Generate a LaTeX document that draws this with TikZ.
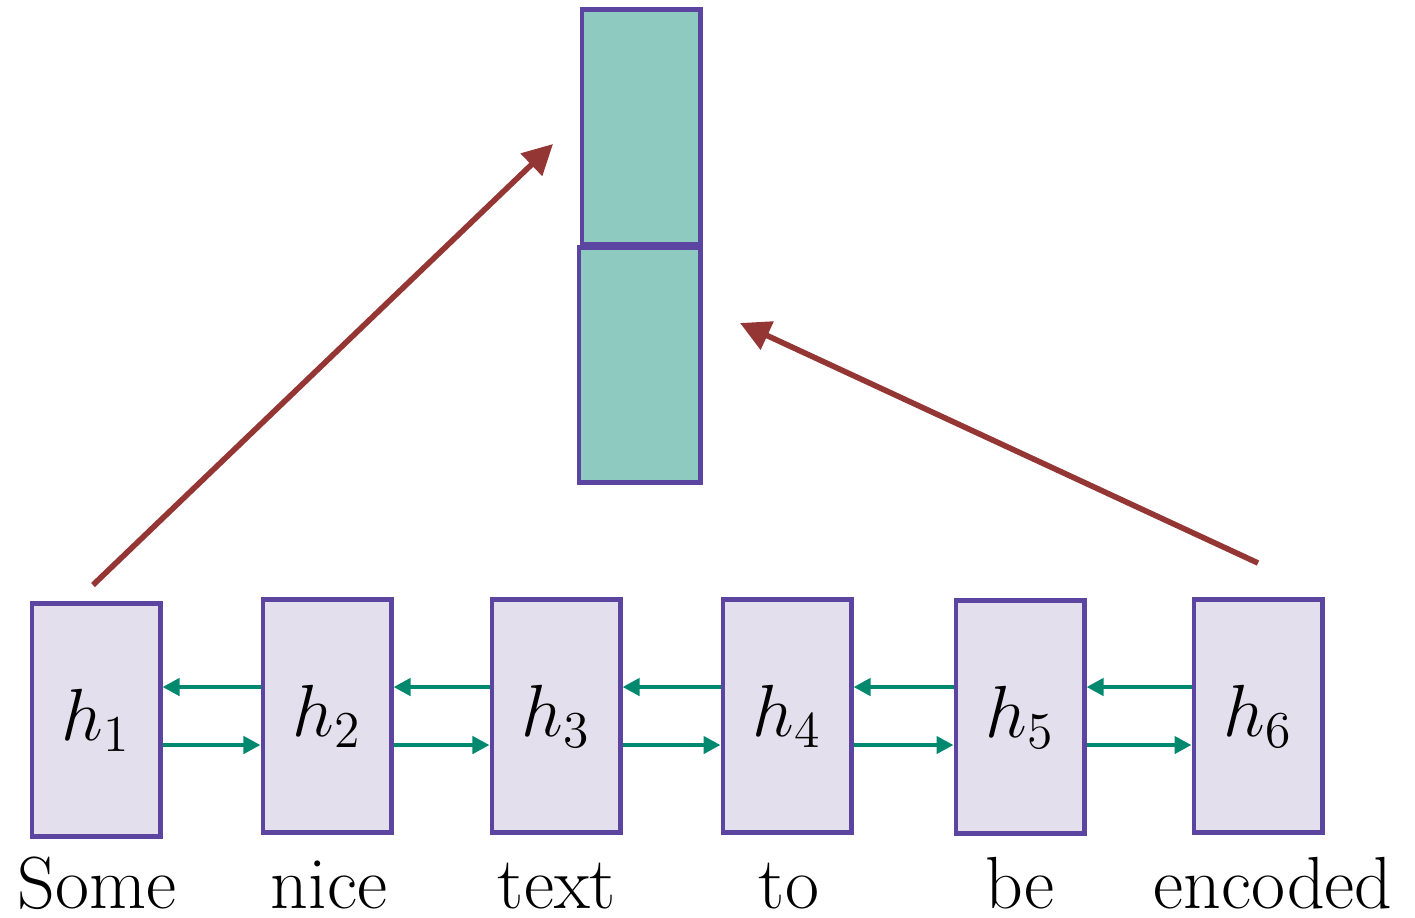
\documentclass[tikz,border=0pt]{standalone}
\usepackage{fix-cm}
\usepackage{tikz}
\usetikzlibrary{arrows.meta,positioning}
\definecolor{boxline}{RGB}{91,69,160}
\definecolor{hidfill}{RGB}{228,223,236}
\definecolor{encfill}{RGB}{143,202,192}
\definecolor{rnngreen}{RGB}{0,137,110}
\definecolor{attnred}{RGB}{148,54,52}

\begin{document}
\begin{tikzpicture}[x=0.01cm,y=-0.01cm,>=Stealth,
  hid/.style={draw=boxline,fill=hidfill,line width=1.4pt,minimum width=1.28cm,minimum height=2.33cm,inner sep=0pt,font=\fontsize{21}{24}\selectfont},
  enc/.style={draw=boxline,fill=encfill,line width=1.4pt,minimum height=2.34cm,inner sep=0pt},
  word/.style={anchor=base,inner sep=0pt,font=\fontsize{21}{24}\selectfont},
  rnn/.style={-{Triangle[length=0.17cm,width=0.17cm]},rnngreen,line width=1.4pt},
  attn/.style={-{Triangle[length=0.3cm,width=0.3cm]},attnred,line width=1.6pt}]
\useasboundingbox (0,0) rectangle (1415,917);
% sentence vector
\node[enc,minimum width=1.18cm] (top) at (641,127) {};
\node[enc,minimum width=1.21cm] (bot) at (639.5,365) {};
% hidden states
\node[hid] (h1) at (96,720) {$h_1$};
\node[hid] (h2) at (327,716) {$h_2$};
\node[hid] (h3) at (556,716) {$h_3$};
\node[hid] (h4) at (787,716) {$h_4$};
\node[hid] (h5) at (1020,717) {$h_5$};
\node[hid] (h6) at (1258,716) {$h_6$};
% input words
\node[word] (w1) at (97,908) {Some};
\node[word] (w2) at (329,908) {nice};
\node[word] (w3) at (557,908) {text};
\node[word] (w4) at (789,908) {to};
\node[word] (w5) at (1020,908) {be};
\node[word] (w6) at (1273,908) {encoded};
% forward and backward passes
\coordinate (fw) at (0,745);
\coordinate (bw) at (0,687);
\foreach \a/\b in {h1/h2,h2/h3,h3/h4,h4/h5,h5/h6}{
  \draw[rnn] (\a.east |- fw) -- (\b.west |- fw);
  \draw[rnn] (\b.west |- bw) -- (\a.east |- bw);
}
% ends of both passes go into the vector
\coordinate (s1) at (93,585);
\coordinate (t1) at (553,144);
\coordinate (s6) at (1258,563);
\coordinate (t6) at (740,323);
\draw[attn] (s1) -- (t1);
\draw[attn] (s6) -- (t6);
\end{tikzpicture}
\end{document}
